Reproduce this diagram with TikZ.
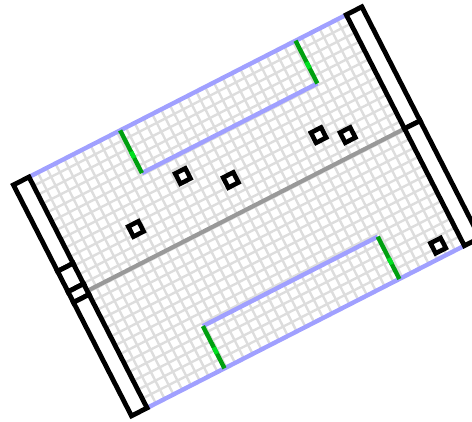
\documentclass[tikz,border=0pt]{standalone}
\definecolor{gridc}{HTML}{DDDDDD}
\definecolor{wallblue}{HTML}{A0A0FF}
\definecolor{doorg}{HTML}{00A010}
\definecolor{doorl}{HTML}{00E020}
\definecolor{midg}{HTML}{999999}
\tikzset{
 gridline/.style={draw=gridc,line width=2.4pt},
 bluewall/.style={draw=wallblue,line width=4.4pt},
 door/.style={draw=doorg,line width=4.4pt},
 doorhi/.style={draw=doorl,line width=4.4pt},
 midline/.style={draw=midg,line width=4.2pt},
 wallbox/.style={draw=black,line width=4.8pt,fill=white,line join=miter},
 marker/.style={draw=black,line width=4.6pt,fill=white},
}
\newcommand{\rotbox}[5]{\draw[#1] (#2,#3) -- (#4,#3) -- (#4,#5) -- (#2,#5) -- cycle;}
\begin{document}
\begin{tikzpicture}[x=1pt,y=1pt]
\useasboundingbox[clip] (0,0) rectangle (472,422);
\begin{scope}[shift={(29pt,245pt)},x={(.89pt,.455pt)},y={(.455pt,-.89pt)}]
 \foreach \i in {1,...,35}{\draw[gridline] ({\i*9.89},0) -- ({\i*9.89},259);}
 \foreach \j in {1,...,25}{\draw[gridline] (0,{\j*9.96}) -- (356,{\j*9.96});}
 \draw[midline] (0,128) -- (358,128);
 % blue walls
 \draw[bluewall] (0,0) -- (356,0);
 \draw[bluewall] (102.4,48) -- (299.5,48);
 \draw[bluewall] (0,259.5) -- (358,259.5);
 \draw[bluewall] (87,212) -- (283.5,212);
 % doors
 \foreach \u/\a/\b in {102.4/0/48,299.5/0/48,283.5/212/259.5,87/212/259.5}{
  \draw[door] (\u,\a) -- (\u,\b);
  \draw[doorhi] (\u,{\a+24}) -- (\u,{\a+31});
 }
 % side walls
 \rotbox{wallbox}{-17.5}{0}{0}{97}
 \rotbox{wallbox}{-17.5}{97}{0}{120}
 \rotbox{wallbox}{-17.5}{120}{0}{132}
 \rotbox{wallbox}{-17.5}{132}{0}{259.5}
 \rotbox{wallbox}{356.5}{0}{374}{128}
 \rotbox{wallbox}{356.5}{128}{374}{259.5}
 % markers
 \foreach \u/\v in {137.5/69.2,178.4/94.6,71.6/95,277/94.6,303/107.8,333.2/247.5}{
  \rotbox{marker}{\u-5.7}{\v-5.7}{\u+5.7}{\v+5.7}
 }
\end{scope}
\end{tikzpicture}
\end{document}
